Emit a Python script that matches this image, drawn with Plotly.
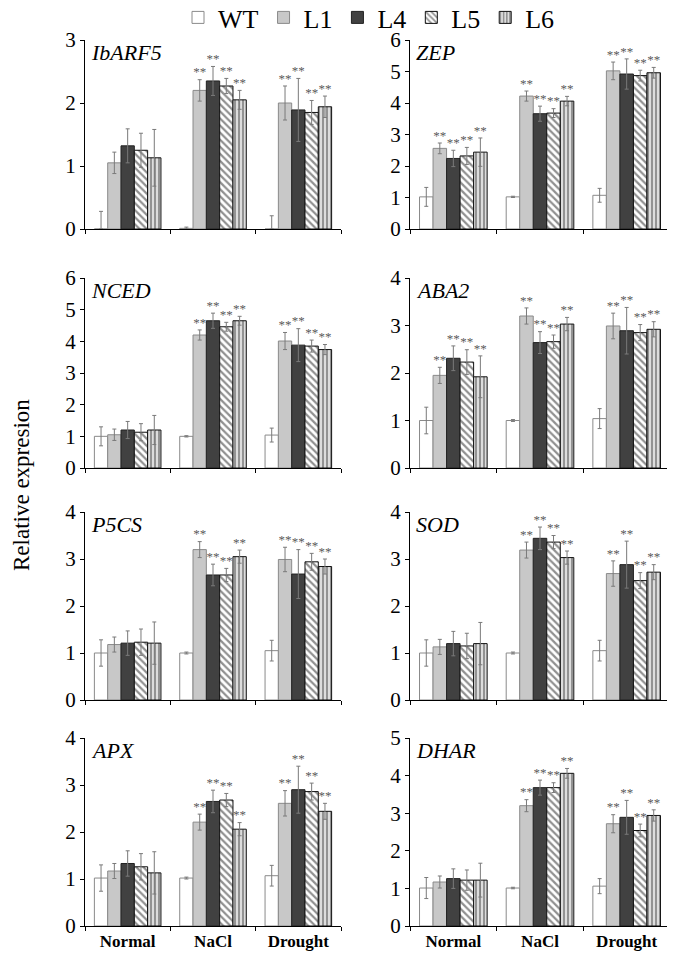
import plotly.graph_objects as go

CONDITIONS = ["Normal", "NaCl", "Drought"]
LINES = ["WT", "L1", "L4", "L5", "L6"]
GENES = ["IbARF5", "ZEP", "NCED", "ABA2", "P5CS", "SOD", "APX", "DHAR"]
Y_MAX = [3, 6, 6, 4, 4, 4, 4, 5]

# rows = lines (WT, L1, L4, L5, L6), columns = conditions (Normal, NaCl, Drought)
IBARF5_MEAN = [[0.0, 0.01, 0.0], [1.05, 2.2, 2.0], [1.32, 2.35, 1.89], [1.25, 2.27, 1.85], [1.13, 2.05, 1.94]]
IBARF5_ERR = [[0.28, 0.02, 0.21], [0.17, 0.17, 0.27], [0.27, 0.23, 0.5], [0.27, 0.12, 0.19], [0.45, 0.15, 0.17]]
IBARF5_SIG = [False, True, True]

ZEP_MEAN = [[1.02, 1.02, 1.07], [2.56, 4.22, 5.02], [2.24, 3.66, 4.92], [2.32, 3.68, 4.87], [2.44, 4.06, 4.96]]
ZEP_ERR = [[0.3, 0.02, 0.22], [0.17, 0.16, 0.28], [0.26, 0.24, 0.48], [0.27, 0.14, 0.17], [0.45, 0.15, 0.17]]
ZEP_SIG = [True, True, True]

NCED_MEAN = [[1.0, 1.0, 1.04], [1.05, 4.2, 4.01], [1.2, 4.65, 3.88], [1.13, 4.46, 3.85], [1.2, 4.65, 3.74]]
NCED_ERR = [[0.3, 0.02, 0.22], [0.18, 0.16, 0.27], [0.27, 0.24, 0.52], [0.27, 0.14, 0.19], [0.46, 0.14, 0.16]]
NCED_SIG = [False, True, True]

ABA2_MEAN = [[1.0, 1.0, 1.04], [1.95, 3.2, 2.99], [2.31, 2.64, 2.89], [2.23, 2.66, 2.85], [1.92, 3.03, 2.92]]
ABA2_ERR = [[0.28, 0.02, 0.21], [0.17, 0.17, 0.27], [0.26, 0.23, 0.49], [0.26, 0.14, 0.17], [0.44, 0.14, 0.16]]
ABA2_SIG = [True, True, True]

P5CS_MEAN = [[1.0, 1.0, 1.05], [1.18, 3.2, 2.99], [1.21, 2.66, 2.68], [1.23, 2.66, 2.94], [1.21, 3.05, 2.84]]
P5CS_ERR = [[0.28, 0.02, 0.22], [0.16, 0.17, 0.26], [0.26, 0.23, 0.52], [0.28, 0.14, 0.18], [0.45, 0.14, 0.16]]
P5CS_SIG = [False, True, True]

SOD_MEAN = [[1.0, 1.0, 1.05], [1.13, 3.19, 2.69], [1.2, 3.44, 2.88], [1.15, 3.36, 2.54], [1.2, 3.03, 2.72]]
SOD_ERR = [[0.28, 0.02, 0.22], [0.16, 0.17, 0.27], [0.26, 0.24, 0.5], [0.27, 0.14, 0.17], [0.45, 0.14, 0.16]]
SOD_SIG = [False, True, True]

APX_MEAN = [[1.02, 1.02, 1.07], [1.17, 2.21, 2.61], [1.33, 2.65, 2.9], [1.26, 2.68, 2.86], [1.13, 2.06, 2.44]]
APX_ERR = [[0.28, 0.02, 0.22], [0.16, 0.17, 0.27], [0.27, 0.24, 0.5], [0.28, 0.14, 0.18], [0.45, 0.14, 0.17]]
APX_SIG = [False, True, True]

DHAR_MEAN = [[1.01, 1.01, 1.06], [1.17, 3.2, 2.72], [1.26, 3.68, 2.89], [1.22, 3.68, 2.54], [1.22, 4.06, 2.94]]
DHAR_ERR = [[0.28, 0.02, 0.2], [0.16, 0.16, 0.24], [0.26, 0.2, 0.45], [0.27, 0.13, 0.17], [0.45, 0.13, 0.15]]
DHAR_SIG = [False, True, True]

MEANS = [IBARF5_MEAN, ZEP_MEAN, NCED_MEAN, ABA2_MEAN, P5CS_MEAN, SOD_MEAN, APX_MEAN, DHAR_MEAN]
ERRS = [IBARF5_ERR, ZEP_ERR, NCED_ERR, ABA2_ERR, P5CS_ERR, SOD_ERR, APX_ERR, DHAR_ERR]
SIGS = [IBARF5_SIG, ZEP_SIG, NCED_SIG, ABA2_SIG, P5CS_SIG, SOD_SIG, APX_SIG, DHAR_SIG]

# page body has an 8px margin: the figure is drawn 8px in from the window's top-left
PAGE_OFF = 8
W, H = 675 - PAGE_OFF, 955 - PAGE_OFF
SERIF = "Liberation Serif"


def px_x(p):
    return (p - PAGE_OFF) / W


def px_y(p):
    return 1 - (p - PAGE_OFF) / H


STYLES = {
    "WT": dict(color="white", line=dict(color="#8a8a8a", width=1)),
    "L1": dict(color="#c8c8c8", line=dict(color="#8a8a8a", width=1)),
    "L4": dict(color="#414141", line=dict(color="#222222", width=1)),
    "L5": dict(color="white", line=dict(color="#111111", width=1),
               pattern=dict(shape="\\", fgcolor="#222222", bgcolor="white", size=5, solidity=0.45)),
    "L6": dict(color="white", line=dict(color="#111111", width=1),
               pattern=dict(shape="|", fgcolor="#4a4a4a", bgcolor="#dddddd", size=4, solidity=0.5)),
}

# panel positions in window pixels (left, right, top, bottom)
COLS_PX = [(85, 341), (410, 670)]
ROWS_PX = [(40, 229), (278, 468), (512, 700), (738, 926)]

fig = go.Figure()
BARGAP = 0.22

for g, gene in enumerate(GENES):
    r, c = divmod(g, 2)
    idx = "" if g == 0 else str(g + 1)
    xa, ya = "x" + idx, "y" + idx
    for s, line in enumerate(LINES):
        mean = MEANS[g][s]
        err = ERRS[g][s]
        fig.add_trace(go.Bar(
            x=CONDITIONS, y=mean, name=line, legendgroup=line,
            showlegend=(g == 0), marker=STYLES[line],
            error_y=dict(type="data", array=err, arrayminus=[min(e, m) for e, m in zip(err, mean)],
                         color="#7a7a7a", thickness=1, width=2),
            xaxis=xa, yaxis=ya,
        ))
    for s, line in enumerate(LINES):
        mean = MEANS[g][s]
        err = ERRS[g][s]
        txt = ["**" if (SIGS[g][k] and line != "WT") else "" for k in range(3)]
        fig.add_trace(go.Scatter(
            x=CONDITIONS, y=[m + e for m, e in zip(mean, err)], mode="text", text=txt,
            textposition="top center", textfont=dict(family=SERIF, size=13, color="#5a5a5a"),
            showlegend=False, hoverinfo="skip", xaxis=xa, yaxis=ya, cliponaxis=False,
        ))
    l, rr = COLS_PX[c]
    t, b = ROWS_PX[r]
    xkey = "xaxis" + idx
    ykey = "yaxis" + idx
    fig.layout[xkey] = dict(
        domain=[px_x(l), px_x(rr)], anchor=ya, type="category", tickson="boundaries",
        ticks="outside", ticklen=4, tickcolor="black", showline=True, linecolor="black",
        linewidth=1, showgrid=False, showticklabels=(r == 3),
        tickfont=dict(family=SERIF, size=17, color="black", weight="bold"),
    )
    fig.layout[ykey] = dict(
        domain=[px_y(b), px_y(t)], anchor=xa, range=[0, Y_MAX[g]], dtick=1,
        ticks="outside", ticklen=4, tickcolor="black", showline=True, linecolor="black",
        linewidth=1, showgrid=False, zeroline=False,
        tickfont=dict(family=SERIF, size=21, color="black"),
    )
    fig.add_annotation(
        text="<i>" + gene + "</i>", xref=xa + " domain", yref=ya + " domain",
        x=0.015, y=1.01, xanchor="left", yanchor="top", showarrow=False,
        font=dict(family=SERIF, size=22, color="black"),
    )

fig.add_annotation(
    text="Relative expresion", xref="paper", yref="paper", x=px_x(21), y=px_y(485),
    textangle=-90, showarrow=False, xanchor="center", yanchor="middle",
    font=dict(family=SERIF, size=23, color="black"),
)

fig.update_layout(
    width=W, height=H, margin=dict(l=0, r=0, t=0, b=0, autoexpand=False),
    paper_bgcolor="white", plot_bgcolor="white",
    colorway=["#5a5a5a"],
    barmode="group", bargap=BARGAP, bargroupgap=0,
    scattermode="group", scattergap=BARGAP,
    legend=dict(orientation="h", x=px_x(369), xanchor="center", y=1 + 14 / H, yanchor="top",
                font=dict(family=SERIF, size=26, color="black"), itemwidth=30,
                tracegroupgap=0, bgcolor="rgba(0,0,0,0)"),
)

fig.write_html("out.html")
